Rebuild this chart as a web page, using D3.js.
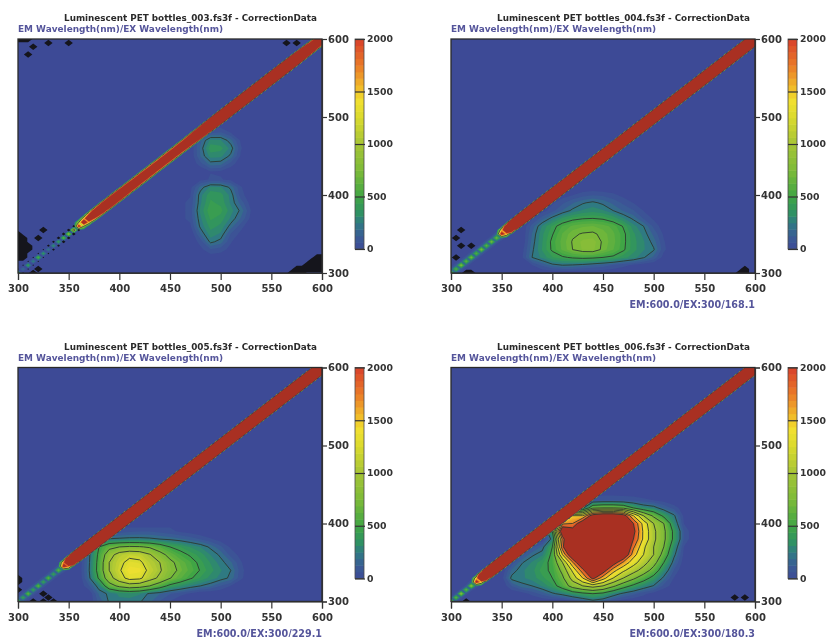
<!DOCTYPE html>
<html>
<head>
  <meta charset="utf-8">
  <title>Luminescent PET bottles</title>
  <style>
  body { margin: 0; background: #fff; }
  svg { display: block; filter: blur(0.45px); }
  text { font-family: "DejaVu Sans", sans-serif; font-weight: bold; }
  .title { fill: #2a2a2a; font-size: 8.8px; text-anchor: middle; }
  .sub { fill: #55559b; font-size: 8.95px; }
  .foot { fill: #55559b; font-size: 9.6px; text-anchor: end; }
  .axis text { fill: #333; font-size: 10px; }
  .axis.bar text { font-size: 9.3px; }
  .axis line, .axis path { stroke: #333; stroke-width: 1.2px; }
  .line { fill: none; stroke: #2c3a30; stroke-width: 0.9px; stroke-linejoin: round; }
  </style>
</head>
<body>
  <div id="chart"></div>
  <script src="https://cdn.jsdelivr.net/npm/d3@7"></script>
  <script>
  //sample names and the peak read-out under each plot
  var samples = ["003", "004", "005", "006"];
  var footers = ["", "EM:600.0/EX:300/168.1", "EM:600.0/EX:300/229.1", "EM:600.0/EX:300/180.3"];

  //axis and colour bar ticks
  var wavelengthTicks = [300, 350, 400, 450, 500, 550, 600];
  var emTicks = [300, 400, 500, 600];
  var barTicks = [0, 500, 1000, 1500, 2000];
  var lineLevels = [250, 500, 750, 1000, 1250, 1500, 1750, 2000];

  //the scatter ridge along EM=EX, read every 5nm from 300 to 600
  var center003 = [600,250,500,350,650,450,300,400,500,700,
    900,1300,2400,3000,3600,4000,4300,4500,4600,4700,
    4700,4600,4400,4300,4200,4100,4000,3900,3800,3800,
    3900,4000,4200,4500,4800,5200,5600,6000,6200,6400,
    6500,6500,6600,6600,6700,6700,6800,6800,6800,6900,
    6900,6800,6700,6500,6300,6000,5800,5500,5300,5100,5000];
  var side003 = [-0.6,-0.6,-0.6,-0.6,-0.6,-0.6,-0.7,-0.7,-0.8,-0.8,
    -0.8,-0.7,1000,1500,2100,2800,3300,3700,3900,3800,
    3700,3500,3300,3200,3100,3000,3000,3000,3000,3000,
    3000,3100,3200,3500,4000,4700,5500,7000,9000,11000,
    12000,12000,12000,12500,12500,13000,13000,13000,13000,13500,
    13500,13000,12000,11000,9500,8000,6500,5000,4000,3400,3000];
  var center004 = [800,650,850,700,800,650,850,700,800,750,
    2500,3500,6000,9000,12000,14000,14000,14000,14000,14000,
    14000,14000,14000,14000,14000,14000,14000,14000,14000,14000,
    14000,14000,14000,14000,14000,14000,14000,14000,14000,14000,
    14000,14000,14000,14000,14000,14000,14000,14000,14000,14000,
    14000,14000,14000,14000,14000,14000,14000,14000,14000,14000,14000];
  var side004 = [150,150,150,150,150,150,150,150,150,200,
    1500,3500,6500,10000,13000,15000,15000,15000,14000,14000,
    13000,13000,13000,12000,12000,12000,12000,12000,12000,12000,
    12000,11000,11000,12000,12000,12000,13000,13000,13000,13000,
    13000,13000,13000,13000,13000,13000,13000,13000,13000,13000,
    13000,13000,13000,13000,13000,13000,13000,13000,13000,12000,10000];
  var center005 = [700,500,700,500,700,500,700,500,700,2400,
    3600,7000,11000,14000,14000,14000,14000,14000,14000,14000,
    14000,14000,14000,14000,14000,14000,14000,14000,14000,14000,
    14000,14000,14000,14000,14000,14000,14000,14000,14000,14000,
    14000,14000,14000,14000,14000,14000,14000,14000,14000,14000,
    14000,14000,14000,14000,14000,14000,14000,14000,14000,14000,14000];
  var side005 = [120,120,120,120,120,120,120,120,150,1800,
    4500,8000,12000,14000,15000,15000,15000,15000,15000,15000,
    15000,15000,15000,15000,15000,15000,15000,15000,15000,15000,
    15000,15000,15000,15000,15000,15000,15000,15000,15000,15000,
    15000,15000,15000,15000,15000,15000,15000,15000,15000,15000,
    15000,15000,15000,15000,15000,15000,15000,15000,15000,14000,11000];
  var center006 = [900,700,900,700,900,2400,3800,7000,10000,13000,
    14000,14000,14000,14000,14000,14000,14000,14000,14000,14000,
    14000,14000,14000,14000,14000,14000,14000,14000,14000,14000,
    14000,14000,14000,14000,14000,14000,14000,14000,14000,14000,
    14000,14000,14000,14000,14000,14000,14000,14000,14000,14000,
    14000,14000,14000,14000,14000,14000,14000,14000,14000,14000,14000];
  var side006 = [100,100,100,100,150,1500,4000,7000,10000,12000,
    13000,13000,13000,13000,13000,13000,13000,13000,13000,13000,
    13000,13000,13000,13000,13000,13000,13000,13000,13000,13000,
    13000,13000,13000,13000,13000,13000,13000,13000,13000,13000,
    13000,13000,13000,13000,13000,13000,13000,13000,13000,13000,
    13000,13000,13000,13000,13000,13000,13000,13000,13000,12000,10000];

  //fluorescence patches, top row first, one column per EX value
  var patchX003 = [470,480,490,500,510,520,530];
  var patchY003 = [490,480,470,460,450,440,430,420,410,400,390,380,370,360,350,340,330,320];
  var patch003 = [
    [0,0,20,20,0,0,0],
    [0,30,110,130,60,10,0],
    [0,170,330,320,210,50,0],
    [0,200,420,400,290,70,0],
    [0,190,340,330,230,50,0],
    [0,100,220,210,100,10,0],
    [0,0,60,50,10,0,0],
    [10,40,70,70,40,10,0],
    [40,210,330,320,230,70,0],
    [60,290,420,400,290,90,10],
    [70,300,450,420,300,160,30],
    [90,330,490,460,340,230,60],
    [80,300,450,410,300,180,40],
    [50,270,400,360,220,90,0],
    [0,190,350,300,120,40,0],
    [0,90,270,220,70,0,0],
    [0,40,120,90,40,0,0],
    [0,0,20,20,0,0,0]];

  var patchX004 = [370,380,390,400,410,420,430,440,450,460,470,480,490,500,510,520];
  var patchY004 = [410,400,390,380,370,360,350,340,330,320,310,300];
  var patch004 = [
    [0,0,0,0,0,0,0,10,0,0,0,0,0,0,0,0],
    [0,0,0,0,30,60,100,120,110,80,40,10,0,0,0,0],
    [0,0,0,50,110,180,240,270,230,170,110,60,20,0,0,0],
    [0,0,30,100,190,270,320,350,320,250,180,130,60,20,0,0],
    [0,50,160,280,390,460,490,500,480,420,320,230,120,50,0,0],
    [0,150,320,450,570,640,680,690,660,600,490,340,250,110,20,0],
    [0,190,360,490,630,730,760,770,720,640,530,390,290,170,50,0],
    [0,210,370,530,650,760,830,850,730,650,530,400,320,220,70,0],
    [30,230,380,520,640,750,820,830,720,630,520,400,320,260,80,0],
    [50,250,330,430,480,520,540,530,500,470,400,340,260,170,30,0],
    [0,60,140,220,250,240,220,190,160,120,80,50,20,0,0,0],
    [0,0,0,0,0,0,0,0,0,0,0,0,0,0,0,0]];

  var patchX005 = [360,370,380,390,400,410,420,430,440,450,460,470,480,490,500,510,520,530];
  var patchY005 = [390,380,370,360,350,340,330,320,310,300];
  var patch005 = [
    [0,0,0,40,90,110,120,120,100,80,50,30,0,0,0,0,0,0],
    [0,60,240,260,270,280,280,270,250,230,200,160,120,70,30,0,0,0],
    [0,180,500,680,750,780,770,720,620,500,440,370,310,230,140,50,10,0],
    [0,220,550,900,1100,1180,1150,1020,830,680,560,480,410,310,230,100,40,0],
    [0,230,580,1000,1180,1330,1300,1120,1000,800,680,570,460,370,280,200,70,0],
    [0,240,590,1000,1220,1420,1400,1180,1030,830,710,600,490,400,320,250,90,0],
    [0,220,530,900,1150,1330,1300,1100,950,760,640,520,430,350,290,230,80,0],
    [0,120,300,650,800,880,850,750,600,450,370,300,250,200,120,60,0,0],
    [0,0,200,270,330,350,320,230,190,130,90,50,0,0,0,0,0,0],
    [0,0,150,260,290,280,260,200,120,60,0,0,0,0,0,0,0,0]];

  var patchX006 = [350,360,370,380,390,400,410,420,430,440,450,460,470,480,490,500,510,520,530,540];
  var patchY006 = [440,430,420,410,400,390,380,370,360,350,340,330,320,310,300];
  var patch006 = [
    [0,0,0,0,0,0,0,0,0,10,20,20,20,20,10,0,0,0,0,0],
    [0,0,0,0,0,0,0,0,0,100,120,120,110,100,80,60,30,0,0,0],
    [0,0,0,0,0,0,0,0,200,700,750,750,700,500,350,300,180,100,20,0],
    [0,0,0,0,0,0,0,1500,1500,2200,2400,2400,2200,1500,1000,700,450,270,40,0],
    [0,0,0,0,0,0,1700,1750,2300,3000,3000,3000,2800,2000,1400,1000,750,350,60,0],
    [0,0,0,0,0,500,2400,2200,3000,3000,3000,3000,2800,2100,1450,1050,800,450,120,0],
    [0,0,0,0,0,300,1800,3000,3000,3000,3000,3000,2800,2000,1450,1050,800,450,120,0],
    [0,0,0,100,200,500,1900,3000,3000,3000,3000,3000,2600,1800,1300,1000,750,350,60,0],
    [0,0,100,230,300,550,1500,2400,3000,3000,3000,2800,2400,1600,1250,1000,650,280,40,0],
    [0,80,240,320,420,560,1000,1700,2500,3000,3000,2200,1700,1350,1100,850,500,200,20,0],
    [0,200,300,350,470,520,820,1300,1900,2600,2200,1600,1300,1100,900,650,350,120,0,0],
    [30,280,300,340,420,500,700,1100,1500,2100,1600,1250,1000,800,600,420,220,60,0,0],
    [0,130,220,250,320,420,600,850,1000,1100,1000,800,600,450,330,240,100,30,0,0],
    [0,0,30,80,150,230,290,380,450,500,450,320,220,150,80,30,0,0,0,0],
    [0,0,0,0,0,0,0,50,120,200,150,60,10,0,0,0,0,0,0,0]];

  //negative readings (drawn black), as EX,EM pairs on the 5nm grid
  var dark003 = [[300,600],[305,600],[310,600],[315,590],[310,580],[330,595],[350,595],[565,595],[575,595],
    [300,350],[300,345],[305,345],[300,340],[305,340],[300,335],[305,335],[310,335],[300,330],[305,330],[310,330],
    [300,325],[305,325],[300,320],[305,320],[320,345],[325,355],[320,305],[315,300],
    [600,320],[595,320],[590,315],[595,315],[600,315],[585,310],[590,310],[595,310],[600,310],
    [575,305],[580,305],[585,305],[590,305],[595,305],[600,305],[570,300],[575,300],[580,300]];
  var dark004 = [[310,355],[305,345],[320,335],[310,335],[305,320],[320,300],[315,300],[590,305],[585,300],[590,300]];
  var dark005 = [[300,330],[300,325],[325,310],[325,300],[330,305],[335,300],[315,300],[300,315]];
  var dark006 = [[315,300],[580,305],[590,305]];

  var ridges = [[center003, side003], [center004, side004], [center005, side005], [center006, side006]];
  var patches = [[patchX003, patchY003, patch003], [patchX004, patchY004, patch004],
    [patchX005, patchY005, patch005], [patchX006, patchY006, patch006]];
  var darks = [dark003, dark004, dark005, dark006];

  //colour ramp, 32 flat bands like the instrument software
  var color = d3.scaleLinear()
  .domain([0, 125, 250, 350, 500, 750, 1000, 1250, 1400, 1500, 1750, 2000])
  .range(["#3d4a96", "#3a5c95", "#2f7a82", "#2f9262", "#40a545", "#7dbb38", "#a5c436", "#d9da2e", "#f0e030", "#f2c82a", "#ea7a28", "#d8402a"]);
  var over = "#a93022";
  var step = 62.5;
  var levels = d3.range(step, 2000 + step, step);
  function fill(v) { return v >= 2000 ? over : color(v); }

  var width = 826, height = 637;
  var plotW = 304, plotH = 234;
  var lefts = [18, 451, 18, 451], tops = [39, 39, 367.5, 367.5];
  var barH = [210, 210, 211, 211];

  var svg = d3.select("#chart").append("svg")
  .attr("width", width)
  .attr("height", height);

  samples.forEach(function(name, p) {
    var g = svg.append("g").attr("transform", "translate(" + lefts[p] + "," + tops[p] + ")");

    var x = d3.scaleLinear().domain([300, 600]).range([0, plotW]);
    var y = d3.scaleLinear().domain([300, 600]).range([plotH, 0]);

    g.append("clipPath").attr("id", "clip" + p)
    .append("rect").attr("width", plotW).attr("height", plotH);

    var plot = g.append("g").attr("clip-path", "url(#clip" + p + ")");
    plot.append("rect").attr("width", plotW).attr("height", plotH).attr("fill", color(0));

    //grid units to pixels for one matrix
    function pathFor(xs, ys) {
      var dx = xs[1] - xs[0], dy = ys[1] - ys[0];
      return d3.geoPath(d3.geoTransform({
        point: function(a, b) {
          this.stream.point(x(xs[0] + (a - 0.5) * dx), y(ys[0] + (b - 0.5) * dy));
        }
      }));
    }

    //fluorescence patch
    var px = patches[p][0], py = patches[p][1];
    var patchPath = pathFor(px, py);
    var patchFlat = d3.merge(patches[p][2]);
    var patchMaker = d3.contours().size([px.length, py.length]);
    plot.selectAll("path.patch")
    .data(patchMaker.thresholds(levels)(patchFlat))
    .enter().append("path")
    .attr("class", "patch")
    .attr("d", patchPath)
    .attr("fill", function(d) { return fill(d.value); });
    plot.selectAll("path.line")
    .data(patchMaker.thresholds(lineLevels)(patchFlat))
    .enter().append("path")
    .attr("class", "line")
    .attr("d", patchPath);

    //scatter ridge on its own 5nm grid
    var grid = d3.range(300, 605, 5);
    var n = grid.length;
    var ridge = new Array(n * n).fill(0);
    grid.forEach(function(w, i) {
      ridge[i * n + i] = ridges[p][0][i];
      if (i + 1 < n) {
        ridge[i * n + i + 1] = ridges[p][1][i];
        ridge[(i + 1) * n + i] = ridges[p][1][i];
      }
    });
    var ridgePath = pathFor(grid, grid);
    var ridgeMaker = d3.contours().size([n, n]);
    plot.selectAll("path.ridge")
    .data(ridgeMaker.thresholds(levels)(ridge))
    .enter().append("path")
    .attr("class", "ridge")
    .attr("d", ridgePath)
    .attr("fill", function(d) { return fill(d.value); });
    plot.selectAll("path.ridgeline")
    .data(ridgeMaker.thresholds([1000])(ridge))
    .enter().append("path")
    .attr("class", "ridgeline")
    .attr("d", ridgePath)
    .attr("fill", "none")
    .attr("stroke", "#33304e")
    .attr("stroke-width", 0.8);

    //negative spots
    var neg = ridge.map(function(v) { return v < 0 ? -v : 0; });
    darks[p].forEach(function(d) {
      neg[(d[1] - 300) / 5 * n + (d[0] - 300) / 5] = 3;
    });
    plot.selectAll("path.neg")
    .data(ridgeMaker.thresholds([0.5])(neg))
    .enter().append("path")
    .attr("class", "neg")
    .attr("d", ridgePath)
    .attr("fill", "#15151c");

    //frame and axes
    g.append("rect").attr("width", plotW).attr("height", plotH)
    .attr("fill", "none").attr("stroke", "#2a2a2a").attr("stroke-width", 1.3);

    g.append("g").attr("class", "axis")
    .attr("transform", "translate(0," + plotH + ")")
    .call(d3.axisBottom(x).tickValues(wavelengthTicks).tickFormat(d3.format("d")).tickSize(7).tickPadding(5));
    g.append("g").attr("class", "axis")
    .attr("transform", "translate(" + plotW + ",0)")
    .call(d3.axisRight(y).tickValues(emTicks).tickFormat(d3.format("d")).tickSize(5).tickPadding(1));

    //colour bar
    var barX = 337;
    var barY = d3.scaleLinear().domain([0, 2000]).range([barH[p], 0]);
    g.selectAll("rect.band")
    .data(d3.range(0, 2000, step))
    .enter().append("rect")
    .attr("class", "band")
    .attr("x", barX)
    .attr("width", 9)
    .attr("y", function(d) { return barY(d + step); })
    .attr("height", function(d) { return barY(d) - barY(d + step) + 0.5; })
    .attr("fill", function(d) { return color(d + step / 2); });
    g.append("rect").attr("x", barX).attr("width", 9).attr("height", barH[p])
    .attr("fill", "none").attr("stroke", "#4a4a4a").attr("stroke-width", 0.8);
    g.append("g").attr("class", "axis bar")
    .attr("transform", "translate(" + barX + ",0)")
    .call(d3.axisRight(barY).tickValues(barTicks).tickFormat(d3.format("d")).tickSize(10).tickPadding(2))
    .call(function(a) { a.select(".domain").remove(); });

    //text
    g.append("text").attr("class", "title")
    .attr("x", plotW / 2 + 20.5).attr("y", -18)
    .text("Luminescent PET bottles_" + name + ".fs3f - CorrectionData");
    g.append("text").attr("class", "sub")
    .attr("x", 0).attr("y", -7)
    .text("EM Wavelength(nm)/EX Wavelength(nm)");
    g.append("text").attr("class", "foot")
    .attr("x", plotW).attr("y", plotH + 35)
    .text(footers[p]);
  });
  </script>
</body>
</html>
